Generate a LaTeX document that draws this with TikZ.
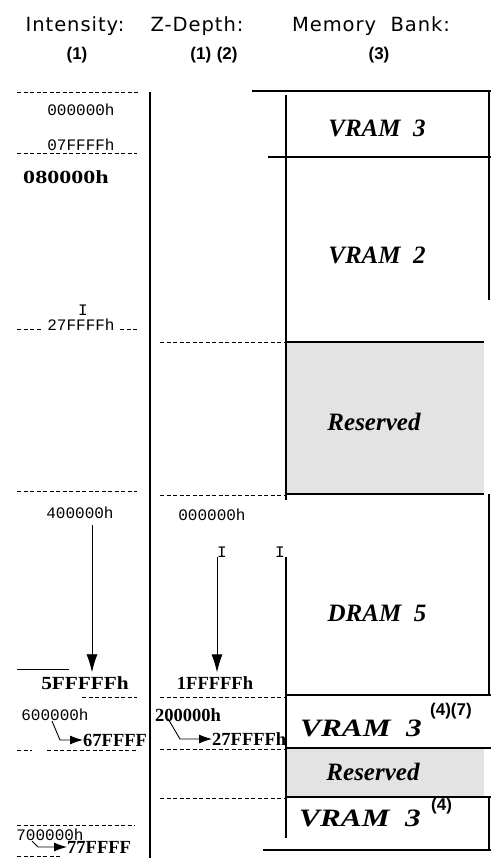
\documentclass[tikz,border=0pt]{standalone}
\usepackage{fontspec}
\setmainfont{Liberation Serif}
\setmonofont{Liberation Mono}
\newfontfamily\hdrfont[LetterSpace=5,WordSpace=2]{DejaVu Sans}
\newfontfamily\parfont{Liberation Sans}
\usetikzlibrary{arrows.meta}

\begin{document}
\begin{tikzpicture}[x=1pt,y=-1pt,
  hdr/.style={font=\hdrfont\fontsize{19.5}{22}\selectfont},
  note/.style={font=\parfont\bfseries\fontsize{17}{19}\selectfont},
  addr/.style={font=\ttfamily\fontsize{16}{17}\selectfont,inner sep=0pt},
  baddr/.style={font=\bfseries\fontsize{18.5}{20}\selectfont,inner sep=0pt},
  bank/.style={font=\bfseries\itshape\fontsize{25}{27}\selectfont},
  dline/.style={line width=0.9pt,dash pattern=on 4pt off 2.5pt},
  wall/.style={line width=1.8pt},
  rsvd/.style={fill=gray!22},
  tip/.style={-{Latex[length=18pt,width=11pt]},line width=0.9pt},
  bentarrow/.style={-{Latex[length=13pt,width=9pt]},line width=0.9pt}]
  \useasboundingbox (0,0) rectangle (491,858);
  % headings
  \node[hdr] (hInt) at (75,26) {Intensity:};
  \node[hdr] (hZ) at (197,26) {Z-Depth:};
  \node[hdr] (hMem) at (371,26) {Memory Bank:};
  \node[note] (nInt) at (77,55) {(1)};
  \node[note] (nZ) at (214,55) {(1)\,\,(2)};
  \node[note] (nMem) at (379,55) {(3)};

  % memory bank column
  \fill[rsvd] (286,342) rectangle (484,494);
  \fill[rsvd] (286,748) rectangle (484,797);
  \draw[wall] (252,91) -- (491,91);
  \draw[wall] (286,95) -- (286,500);
  \draw[wall] (286,557) -- (286,838);
  \draw[wall] (489,91) -- (489,300);
  \draw[wall] (489,494) -- (489,695);
  \draw[wall] (489,797) -- (489,850);
  \draw[wall] (268,157) -- (491,157);
  \draw[wall] (286,342) -- (484,342);
  \draw[wall] (286,494) -- (484,494);
  \draw[wall] (286,695) -- (491,695);
  \draw[wall] (286,748) -- (491,748);
  \draw[wall] (286,797) -- (491,797);
  \draw[wall] (263,850) -- (491,850);
  \node[bank] (vramA) at (377,128) {VRAM~~3};
  \node[bank] (vramB) at (377,255) {VRAM~~2};
  \node[bank] (resA) at (374,422) {Reserved};
  \node[bank] (dram) at (377,613) {DRAM~~5};
  \node[bank] (vramC) at (361,728) {\scalebox{1.25}[1]{VRAM~~3}};
  \node[note,anchor=west,inner sep=0pt] (supC) at (430,711) {(4)(7)};
  \node[bank] (resB) at (373,772) {Reserved};
  \node[bank] (vramD) at (360,818) {\scalebox{1.25}[1]{VRAM~~3}};
  \node[note,anchor=west,inner sep=0pt] (supD) at (431,806) {(4)};

  % intensity column
  \draw[dline] (17,92) -- (140,92);
  \node[addr] (i000) at (81,110) {000000h};
  \node[addr] (i07f) at (81,145) {07FFFFh};
  \draw[dline] (17,153) -- (137,153);
  \node[baddr] (i080) at (66,177) {\scalebox{1.3}[1]{080000h}};
  \node[addr] (iMark) at (83,310) {I};
  \node[addr] (i27f) at (81,325) {27FFFFh};
  \draw[dline] (17,329) -- (42,329);
  \draw[dline] (120,329) -- (137,329);
  \draw[dline] (17,491) -- (137,491);
  \node[addr] (i400) at (80,513) {400000h};
  \draw (17,669) -- (69,669);
  \node[baddr] (i5ff) at (85,683) {\scalebox{1.15}[1]{5FFFFFh}};
  \draw[tip] ([xshift=12pt,yshift=-6pt]i400.south) -- ([xshift=7pt,yshift=4pt]i5ff.north);
  \draw[dline] (82,697) -- (137,697);
  \node[addr] (i600) at (55,715) {600000h};
  \node[baddr,anchor=west] (i67f) at (83,740) {67FFFF};
  \draw[bentarrow] ([xshift=-3pt]i600.south) -- ([xshift=-23pt]i67f.west) -- (i67f.west);
  \draw[dline] (17,750) -- (32,750);
  \draw[dline] (47,750) -- (137,750);
  \draw[dline] (17,825) -- (135,825);
  \node[addr] (i700) at (50,835) {700000h};
  \node[baddr,anchor=west] (i77f) at (67,847) {77FFFF};
  \draw[bentarrow] ([xshift=-18pt]i700.south) -- ([xshift=-29pt]i77f.west) -- (i77f.west);
  \draw[dline] (17,856) -- (62,856);

  % z-depth column
  \draw[dline] (160,342) -- (286,342);
  \draw[dline] (160,495) -- (286,495);
  \node[addr] (z000) at (212,515) {000000h};
  \node[addr] (zMarkA) at (222,552) {I};
  \node[addr] (zMarkB) at (280,552) {I};
  \node[baddr] (z1ff) at (215,683) {1FFFFFh};
  \draw[tip] ([xshift=-5pt]zMarkA.south) -- ([xshift=2pt,yshift=4pt]z1ff.north);
  \draw[dline] (160,697) -- (285,697);
  \node[baddr,anchor=west] (z200) at (155,715) {200000h};
  \node[baddr,anchor=west] (z27f) at (212,739) {27FFFFh};
  \draw[bentarrow] ([xshift=13pt,yshift=3pt]z200.south west) -- ([xshift=-32pt]z27f.west) -- (z27f.west);
  \draw[dline] (160,749) -- (285,749);
  \draw[dline] (160,798) -- (286,798);

  % divider
  \draw[wall] (150,92) -- (150,858);
\end{tikzpicture}
\end{document}
